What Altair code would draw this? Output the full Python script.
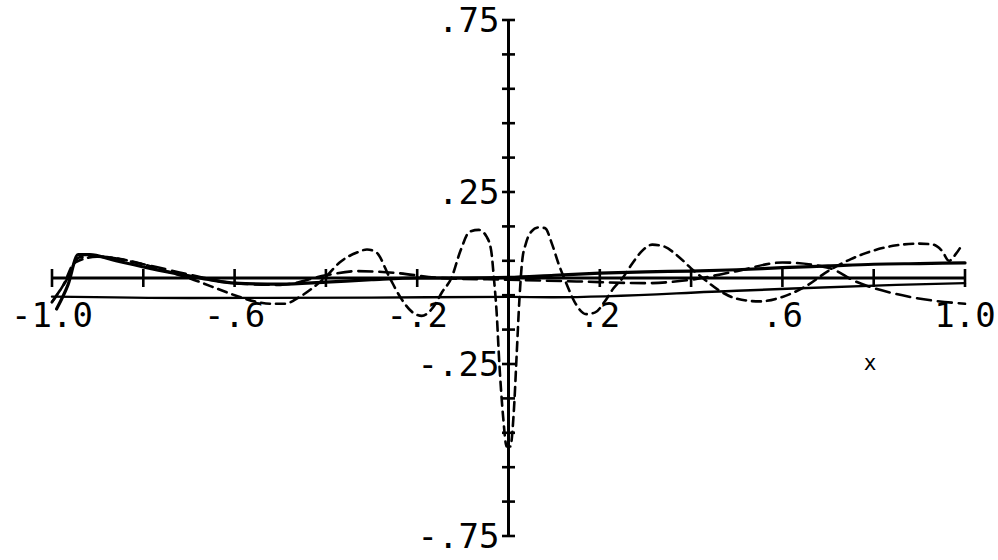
import altair as alt
import pandas as pd

# ---- curve samples -------------------------------------------------------
# thin solid line just below the x axis
a_x = [-1.0, -0.7, -0.3, 0.0, 0.1, 0.5, 0.85, 1.0]
a_y = [-0.054, -0.058, -0.057, -0.055, -0.056, -0.037, -0.02, -0.015]

# thick solid curve hugging the x axis
b_x = [-0.99, -0.965, -0.943, -0.917, -0.86, -0.785, -0.7, -0.65, -0.6, -0.5,
       -0.4, -0.3, -0.2, -0.1, 0.0, 0.1, 0.2, 0.3, 0.4, 0.5, 0.6, 0.7, 0.8,
       0.9, 1.0]
b_y = [-0.09, -0.02, 0.068, 0.068, 0.05, 0.028, 0.006, -0.006, -0.015, -0.018,
       -0.012, -0.005, 0.0, 0.0, 0.002, 0.008, 0.014, 0.018, 0.02, 0.024,
       0.03, 0.035, 0.04, 0.042, 0.044]

# long-dashed curve
c_x = [-1.0, -0.97, -0.94, -0.9, -0.8, -0.7, -0.6, -0.5, -0.4, -0.33, -0.25,
       -0.15, 0.0, 0.15, 0.3, 0.4, 0.5, 0.6, 0.7, 0.76, 0.88, 1.0]
c_y = [-0.07, -0.01, 0.06, 0.062, 0.04, 0.01, -0.015, -0.02, 0.008, 0.02,
       0.015, 0.0, -0.005, -0.01, -0.015, -0.005, 0.02, 0.045, 0.03, -0.01,
       -0.055, -0.075]

# short-dashed oscillating curve with the deep dip at the origin
d_x = [-1.0, -0.975, -0.95, -0.9, -0.85, -0.8, -0.75, -0.7, -0.65, -0.6,
       -0.55, -0.52, -0.49, -0.46, -0.43, -0.4, -0.37, -0.33, -0.31, -0.29,
       -0.26, -0.235, -0.21, -0.19, -0.165, -0.145, -0.125, -0.105, -0.085,
       -0.065, -0.048, -0.038, -0.032, -0.026, -0.02, -0.012, -0.004, 0.004,
       0.012, 0.018, 0.024, 0.03, 0.038, 0.05, 0.065, 0.08, 0.095, 0.11,
       0.125, 0.145, 0.17, 0.19, 0.21, 0.23, 0.25, 0.27, 0.29, 0.315, 0.34,
       0.37, 0.4, 0.43, 0.46, 0.5, 0.55, 0.6, 0.65, 0.7, 0.75, 0.8, 0.85,
       0.9, 0.93, 0.95, 0.965, 0.98, 0.995]
d_y = [-0.07, -0.02, 0.045, 0.062, 0.055, 0.04, 0.02, 0.0, -0.025, -0.05,
       -0.07, -0.075, -0.075, -0.057, -0.03, 0.004, 0.045, 0.075, 0.083,
       0.075, 0.0, -0.06, -0.1, -0.11, -0.085, -0.04, 0.0, 0.08, 0.135,
       0.14, 0.12, 0.08, 0.0, -0.1, -0.25, -0.4, -0.49, -0.49, -0.38, -0.22,
       -0.06, 0.05, 0.1, 0.135, 0.147, 0.145, 0.1, 0.04, -0.01, -0.07,
       -0.105, -0.1, -0.07, -0.03, 0.0, 0.04, 0.075, 0.097, 0.092, 0.065,
       0.028, -0.005, -0.035, -0.06, -0.068, -0.055, -0.025, 0.02, 0.055,
       0.08, 0.095, 0.1, 0.097, 0.078, 0.05, 0.07, 0.1]

# ---- axes ------------------------------------------------------------------
x_ticks = [-1.0, -0.8, -0.6, -0.4, -0.2, 0.0, 0.2, 0.4, 0.6, 0.8, 1.0]
y_ticks = [-0.75, -0.65, -0.55, -0.45, -0.35, -0.25, -0.15, -0.05,
           0.05, 0.15, 0.25, 0.35, 0.45, 0.55, 0.65, 0.75]
x_label_pos = [-1.0, -0.6, -0.2, 0.2, 0.6, 1.0]
x_label_txt = ["-1.0", "-.6", "-.2", ".2", ".6", "1.0"]
y_label_pos = [0.75, 0.25, -0.25, -0.75]
y_label_txt = [".75", ".25", "-.25", "-.75"]

xs = alt.Scale(domain=[-1, 1], nice=False, zero=False)
ys = alt.Scale(domain=[-0.75, 0.75], nice=False, zero=False)
FONT = "DejaVu Sans Mono"


def curve(xv, yv, dash=None, width=2.6):
    df = pd.DataFrame({"x": xv, "y": yv})
    kw = dict(color="black", strokeWidth=width, interpolate="monotone",
              strokeCap="round", strokeJoin="round")
    if dash:
        kw["strokeDash"] = dash
    return alt.Chart(df).mark_line(**kw).encode(
        x=alt.X("x:Q", scale=xs, axis=None),
        y=alt.Y("y:Q", scale=ys, axis=None),
        order="x:Q",
    )


axis_df = pd.DataFrame({"x": [-1.0, 0.0], "x2": [1.0, 0.0],
                        "y": [0.0, -0.75], "y2": [0.0, 0.75]})
axis_lines = alt.Chart(axis_df).mark_rule(color="black", strokeWidth=3).encode(
    x=alt.X("x:Q", scale=xs, axis=None), x2="x2:Q",
    y=alt.Y("y:Q", scale=ys, axis=None), y2="y2:Q",
)

xt = alt.Chart(pd.DataFrame({"x": x_ticks, "y": [0.0] * len(x_ticks)})).mark_tick(
    orient="vertical", color="black", opacity=1, size=18, thickness=2.6
).encode(x=alt.X("x:Q", scale=xs, axis=None), y=alt.Y("y:Q", scale=ys, axis=None))

yt = alt.Chart(pd.DataFrame({"y": y_ticks, "x": [0.0] * len(y_ticks)})).mark_tick(
    orient="horizontal", color="black", opacity=1, size=13, thickness=2.6
).encode(x=alt.X("x:Q", scale=xs, axis=None), y=alt.Y("y:Q", scale=ys, axis=None))

xl = alt.Chart(pd.DataFrame({"x": x_label_pos, "t": x_label_txt,
                             "y": [0.0] * len(x_label_pos)})).mark_text(
    font=FONT, fontSize=34, align="center", baseline="alphabetic", dy=49,
    color="black"
).encode(x=alt.X("x:Q", scale=xs, axis=None), y=alt.Y("y:Q", scale=ys, axis=None),
         text="t:N")

yl = alt.Chart(pd.DataFrame({"y": y_label_pos, "t": y_label_txt,
                             "x": [0.0] * len(y_label_pos)})).mark_text(
    font=FONT, fontSize=34, align="right", baseline="middle", dx=-9, dy=2,
    color="black"
).encode(x=alt.X("x:Q", scale=xs, axis=None), y=alt.Y("y:Q", scale=ys, axis=None),
         text="t:N")

x_name = alt.Chart(pd.DataFrame({"x": [0.792], "y": [-0.251], "t": ["x"]})).mark_text(
    font=FONT, fontSize=21, align="center", baseline="middle", color="black"
).encode(x=alt.X("x:Q", scale=xs, axis=None), y=alt.Y("y:Q", scale=ys, axis=None),
         text="t:N")

chart = alt.layer(
    axis_lines, xt, yt,
    curve(a_x, a_y, width=2.4),
    curve(b_x, b_y, width=3.2),
    curve(c_x, c_y, dash=[14, 7], width=2.6),
    curve(d_x, d_y, dash=[9, 6], width=2.6),
    xl, yl, x_name,
).properties(
    width=913, height=516,
    autosize=alt.AutoSizeParams(type="none"),
    padding={"left": 52, "top": 20, "right": 33, "bottom": 24},
    background="white",
).configure_view(stroke=None)

chart.save("out.html", embed_options={"renderer": "svg", "actions": False})
